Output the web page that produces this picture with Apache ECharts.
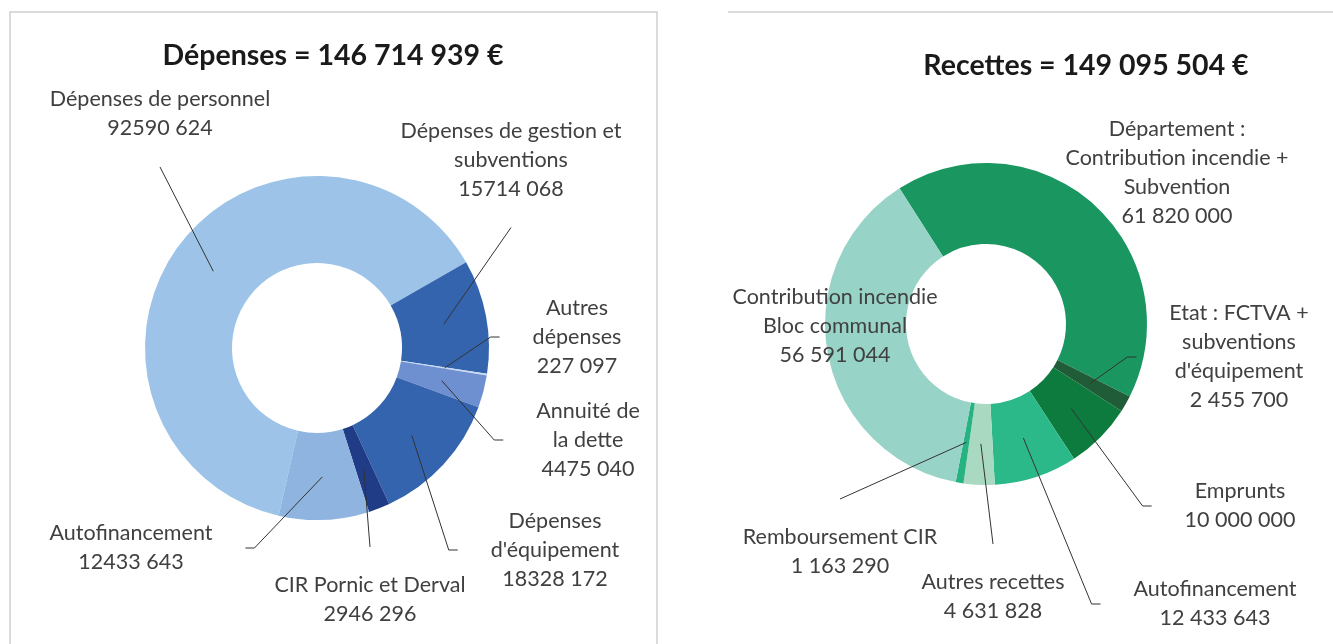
<!DOCTYPE html>
<html>
<head>
<meta charset="utf-8">
<title>Dépenses et recettes</title>
<script src="https://cdn.jsdelivr.net/npm/echarts@6/dist/echarts.min.js"></script>
<style>
  html, body { margin: 0; padding: 0; background: #fff; }
  #chart-container { width: 1333px; height: 644px; }
</style>
</head>
<body>
<div id="chart-container"></div>
<script>
// Dépenses
var depensesNames = [
  'Dépenses de personnel',
  'Dépenses de gestion et\nsubventions',
  'Autres\ndépenses',
  'Annuité de\nla dette',
  'Dépenses\nd\'équipement',
  'CIR Pornic et Derval',
  'Autofinancement'
];
var depensesValues = [92590624, 15714068, 227097, 4475040, 18328172, 2946296, 12433643];

// Recettes
var recettesNames = [
  'Département :\nContribution incendie +\nSubvention',
  'Etat : FCTVA +\nsubventions\nd\'équipement',
  'Emprunts',
  'Autofinancement',
  'Autres recettes',
  'Remboursement CIR',
  'Contribution incendie\nBloc communal'
];
var recettesValues = [61820000, 2455700, 10000000, 12433643, 4631828, 1163290, 56591044];

var depensesColors = ['#9DC4E8', '#3464AE', '#C6DAF2', '#6E8FD0', '#3464AE', '#213C87', '#8FB4DF'];
var recettesColors = ['#1A9660', '#1F5C37', '#0C7B3D', '#2CB98A', '#A9D9C1', '#27B282', '#97D3C6'];

// label centres (px) and the side of the label the leader line leaves from (null = no line)
var depensesLabelPos = [[160, 114], [511, 160], [577, 337], [588, 440], [555, 550], [370, 600], [131, 548]];
var depensesLineSide = ['bottom', 'bottom', 'left', 'left', 'left', 'top', 'right'];
var recettesLabelPos = [[1177, 173], [1239, 357], [1240, 506], [1215, 604], [993, 597], [840, 552], [835, 326]];
var recettesLineSide = [null, 'left', 'left', 'left', 'top', 'top', null];

var FONT = 'Lato';
var GAP_X = 33, GAP_Y = 24, STUB = 9;

// "92590 624" style on the left, "61 820 000" style on the right
function fmtLast(v) {
  var s = String(v);
  return s.slice(0, -3) + ' ' + s.slice(-3);
}
function fmtFull(v) {
  return String(v).replace(/\B(?=(\d{3})+(?!\d))/g, ' ');
}

function ring(names, values, colors, center, radius, startAngle) {
  return {
    type: 'pie',
    silent: true,
    animation: false,
    z: 2,
    center: center,
    radius: radius,
    startAngle: startAngle,
    label: { show: false },
    labelLine: { show: false },
    emphasis: { disabled: true },
    data: names.map(function (n, i) {
      return { name: n, value: values[i], itemStyle: { color: colors[i] } };
    })
  };
}

// transparent pie up to mid-ring: carries the labels, its line anchor sits in the middle of the ring
function labels(names, values, pos, sides, center, midR, startAngle, fmt) {
  return {
    type: 'pie',
    silent: true,
    animation: false,
    z: 5,
    center: center,
    radius: [0, midR],
    startAngle: startAngle,
    avoidLabelOverlap: false,
    itemStyle: { color: 'rgba(0,0,0,0)' },
    emphasis: { disabled: true },
    label: {
      show: true,
      position: 'outside',
      overflow: 'none',
      color: '#404040',
      fontFamily: FONT,
      fontSize: 21.5,
      lineHeight: 29,
      formatter: function (p) { return p.name + '\n' + fmt(p.value); }
    },
    labelLine: {
      show: true,
      length: 10,
      length2: 9,
      minTurnAngle: 0,
      lineStyle: { color: '#333', width: 1 }
    },
    labelLayout: function (p) {
      var c = pos[p.dataIndex];
      var out = { x: c[0], y: c[1], align: 'center', verticalAlign: 'middle' };
      var side = sides[p.dataIndex];
      var pts = p.labelLinePoints;
      if (side && pts && pts.length) {
        var a = pts[0];
        var hw = p.labelRect.width / 2, hh = p.labelRect.height / 2;
        var e, s;
        if (side === 'left') { e = [c[0] - hw - GAP_X, c[1]]; s = [e[0] - STUB, c[1]]; }
        else if (side === 'right') { e = [c[0] + hw + GAP_X, c[1]]; s = [e[0] + STUB, c[1]]; }
        else if (side === 'top') { e = [c[0], c[1] - hh - GAP_Y]; s = e; }
        else { e = [c[0], c[1] + hh + GAP_Y]; s = e; }
        out.labelLinePoints = [a, s, e];
      }
      return out;
    },
    data: names.map(function (n, i) {
      return { name: n, value: values[i], labelLine: { show: sides[i] != null } };
    })
  };
}

var dom = document.getElementById('chart-container');
var myChart = echarts.init(dom, null, { renderer: 'canvas' });

var leftCenter = [317, 348];
var rightCenter = [986, 324];

var option = {
  backgroundColor: '#fff',
  animation: false,
  title: [
    {
      text: 'Dépenses = 146 714 939 €',
      left: 333, top: 41, textAlign: 'center', padding: 0,
      textStyle: { fontFamily: FONT, fontSize: 28.5, fontWeight: 'bold', color: '#1a1a1a' }
    },
    {
      text: 'Recettes = 149 095 504 €',
      left: 1086, top: 51, textAlign: 'center', padding: 0,
      textStyle: { fontFamily: FONT, fontSize: 28.5, fontWeight: 'bold', color: '#1a1a1a' }
    }
  ],
  graphic: [
    {
      type: 'rect', silent: true,
      shape: { x: 10, y: 12, width: 647, height: 700 },
      style: { fill: null, stroke: '#d0d0d0', lineWidth: 1.5 }
    },
    {
      type: 'line', silent: true,
      shape: { x1: 728, y1: 12, x2: 1333, y2: 12 },
      style: { stroke: '#d0d0d0', lineWidth: 1.5 }
    }
  ],
  series: [
    ring(depensesNames, depensesValues, depensesColors, leftCenter, [85, 172], 257.1),
    labels(depensesNames, depensesValues, depensesLabelPos, depensesLineSide, leftCenter, 129, 257.1, fmtLast),
    ring(recettesNames, recettesValues, recettesColors, rightCenter, [80, 161], 122.5),
    labels(recettesNames, recettesValues, recettesLabelPos, recettesLineSide, rightCenter, 120, 122.5, fmtFull)
  ]
};

if (option && typeof option === 'object') {
  myChart.setOption(option);
}

window.addEventListener('resize', myChart.resize);
</script>
</body>
</html>
